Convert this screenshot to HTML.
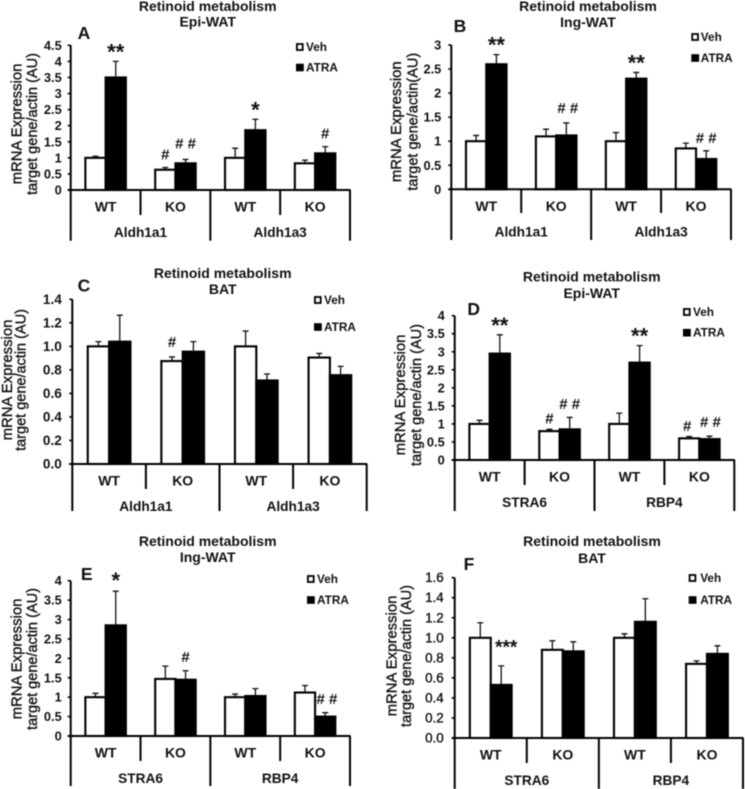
<!DOCTYPE html>
<html lang="en">
<head>
<meta charset="utf-8">
<title>Retinoid metabolism charts</title>
<style>
html,body{margin:0;padding:0;background:#fff;width:745px;height:789px;overflow:hidden}
svg{display:block;filter:blur(0.45px)}
text{font-family:"Liberation Sans",Arial,sans-serif;fill:#111}
.b{font-weight:bold}
</style>
</head>
<body>
<svg id="fig" width="745" height="789" viewBox="0 0 745 789" xmlns="http://www.w3.org/2000/svg"></svg>
<script>
// ---- DATA ----
const categories = ['WT', 'KO', 'WT', 'KO'];
const genesAldh = ['Aldh1a1', 'Aldh1a3'];
const genesRet = ['STRA6', 'RBP4'];
const ticks45 = ['0', '0.5', '1', '1.5', '2', '2.5', '3', '3.5', '4', '4.5'];
const ticks30 = ['0', '0.5', '1', '1.5', '2', '2.5', '3'];
const ticks40 = ['0', '0.5', '1', '1.5', '2', '2.5', '3', '3.5', '4'];
const ticks14 = ['0.0', '0.2', '0.4', '0.6', '0.8', '1.0', '1.2', '1.4'];
const ticks16 = ['0.0', '0.2', '0.4', '0.6', '0.8', '1.0', '1.2', '1.4', '1.6'];

const vehA = [1.0, 0.63, 1.0, 0.83];
const atraA = [3.5, 0.83, 1.86, 1.14];
const errVehA = [0.05, 0.07, 0.3, 0.1];
const errAtraA = [0.5, 0.12, 0.34, 0.21];

const vehB = [1.0, 1.1, 1.0, 0.85];
const atraB = [2.6, 1.12, 2.3, 0.63];
const errVehB = [0.12, 0.15, 0.18, 0.11];
const errAtraB = [0.2, 0.26, 0.13, 0.17];

const vehC = [1.0, 0.875, 1.0, 0.905];
const atraC = [1.04, 0.955, 0.71, 0.755];
const errVehC = [0.04, 0.035, 0.13, 0.035];
const errAtraC = [0.225, 0.085, 0.055, 0.075];

const vehD = [1.0, 0.8, 1.0, 0.6];
const atraD = [2.95, 0.85, 2.7, 0.58];
const errVehD = [0.1, 0.05, 0.3, 0.05];
const errAtraD = [0.52, 0.33, 0.47, 0.08];

const vehE = [1.0, 1.47, 1.0, 1.12];
const atraE = [2.85, 1.45, 1.03, 0.5];
const errVehE = [0.1, 0.33, 0.08, 0.18];
const errAtraE = [0.88, 0.23, 0.19, 0.1];

const vehF = [1.0, 0.88, 1.0, 0.74];
const atraF = [0.53, 0.865, 1.16, 0.84];
const errVehF = [0.15, 0.09, 0.04, 0.03];
const errAtraF = [0.19, 0.095, 0.23, 0.08];

// significance marks: [category index, series (0 Veh, 1 ATRA), label]
const sigA = [[0, 1, '**'], [1, 0, '#'], [1, 1, '# #'], [2, 1, '*'], [3, 1, '#']];
const sigB = [[0, 1, '**'], [1, 1, '# #'], [2, 1, '**'], [3, 1, '# #']];
const sigC = [[1, 0, '#']];
const sigD = [[0, 1, '**'], [1, 0, '#'], [1, 1, '# #'], [2, 1, '**'], [3, 0, '#'], [3, 1, '# #']];
const sigE = [[0, 1, '*'], [1, 1, '#'], [3, 1, '# #']];
const sigF = [[0, 1, '***']];

// ---- LAYOUT ----
const panels = [
 {id:'a', letter:'A', sub:'Epi-WAT', yt1:'mRNA Expression', yt2:'target gene/actin (AU)', genes:genesAldh, ticks:ticks45,
  veh:vehA, atra:atraA, errV:errVehA, errA:errAtraA, sig:sigA, nudge:{'1-1':[0,-3]},
  x0:70.7, x1:350, y0:190, yTop:45.3, sep:215, long:240.7, tx:207.7, t1:6, t2:21.7, lx:84, ly:33,
  yx1:17.7, yx2:33, yc:124, mx:296, tg:10, l1:47, l2:67.5, sigGap:13, tickSize:12.8, tickGap:9},
 {id:'b', letter:'B', sub:'Ing-WAT', yt1:'mRNA Expression', yt2:'target gene/actin(AU)', genes:genesAldh, ticks:ticks30,
  veh:vehB, atra:atraB, errV:errVehB, errA:errAtraB, sig:sigB, nudge:{'1-1':[1.5,-2]},
  x0:451.3, x1:731, y0:189.3, yTop:45, sep:213, long:240, tx:588, t1:6, t2:22, lx:460, ly:26,
  yx1:397, yx2:413.7, yc:121.7, mx:691.3, tg:9.5, l1:37, l2:58, sigGap:13, tickSize:12.8, tickGap:10},
 {id:'c', letter:'C', sub:'BAT', yt1:'mRNA Expression', yt2:'target gene/actin (AU)', genes:genesAldh, ticks:ticks14,
  veh:vehC, atra:atraC, errV:errVehC, errA:errAtraC, sig:sigC, nudge:{},
  x0:72.3, x1:366.7, y0:464, yTop:299.3, sep:489, long:511, tx:222.7, t1:273, t2:289, lx:84, ly:285.7,
  yx1:8, yx2:21.7, yc:380, mx:314, tg:10, l1:300, l2:327, sigGap:14.8, tickSize:13.6, tickGap:10.5},
 {id:'d', letter:'D', sub:'Epi-WAT', yt1:'mRNA Expression', yt2:'target gene/actin (AU)', genes:genesRet, ticks:ticks40,
  veh:vehD, atra:atraD, errV:errVehD, errA:errAtraD, sig:sigD, nudge:{'1-0':[0,2],'1-1':[0,-0.5],'3-0':[-2,2.4],'3-1':[1,-1.5]},
  x0:454.7, x1:734.3, y0:460, yTop:315.7, sep:485, long:511, tx:591.7, t1:276.7, t2:293, lx:473.7, ly:309,
  yx1:401, yx2:417, yc:395, mx:683, tg:10, l1:312, l2:332.7, sigGap:13, tickSize:12.8, tickGap:10},
 {id:'e', letter:'E', sub:'Ing-WAT', yt1:'mRNA Expression', yt2:'target gene/actin (AU)', genes:genesRet, ticks:ticks40,
  veh:vehE, atra:atraE, errV:errVehE, errA:errAtraE, sig:sigE, nudge:{'3-1':[1.7,0]},
  x0:70.7, x1:350, y0:736, yTop:580.7, sep:761, long:786, tx:207.7, t1:541, t2:557, lx:86.7, ly:574,
  yx1:17.7, yx2:33, yc:659, mx:307, tg:10, l1:579, l2:600, sigGap:14, tickSize:12.8, tickGap:9},
 {id:'f', letter:'F', sub:'BAT', yt1:'mRNA Expression', yt2:'target gene/actin (AU)', genes:genesRet, ticks:ticks16,
  veh:vehF, atra:atraF, errV:errVehF, errA:errAtraF, sig:sigF, nudge:{'0-1':[5,0]}, starSize:19,
  x0:454.7, x1:743, y0:738, yTop:577.7, sep:763, long:789, tx:592, t1:541, t2:558, lx:469, ly:564,
  yx1:392.7, yx2:407, yc:656, mx:688.7, tg:11.5, l1:578, l2:600, sigGap:22, tickSize:13.4, tickGap:11, tickNormal:true}
];

const svg = document.getElementById('fig');
const NS = 'http://www.w3.org/2000/svg';

function mk(parent, tag, attrs) {
  const el = document.createElementNS(NS, tag);
  for (const k in attrs) el.setAttribute(k, attrs[k]);
  parent.appendChild(el);
  return el;
}
function txt(parent, content, x, y, size, anchor, bold, extra) {
  const a = Object.assign({x: x, y: y, 'font-size': size, 'text-anchor': anchor, 'dominant-baseline': 'central'}, extra || {});
  if (bold) a['class'] = 'b';
  const el = mk(parent, 'text', a);
  el.textContent = content;
  return el;
}
function tag(el, name) {
  
  
  return el;
}

function drawPanel(p) {
  const g = tag(mk(svg, 'g', {}), 'panel-' + p.id);
  const yMax = parseFloat(p.ticks[p.ticks.length - 1]);
  const yScale = v => p.y0 - (v / yMax) * (p.y0 - p.yTop);
  const cw = (p.x1 - p.x0) / categories.length;
  const catX = i => p.x0 + cw * i;
  const barW = cw * 0.29;
  const barX = (i, s) => catX(i) + cw / 2 + (s === 0 ? -barW : 0);

  tag(txt(g, 'Retinoid metabolism', p.tx, p.t1, 14, 'middle', true), 'chart-title');
  tag(txt(g, p.sub, p.tx, p.t2, 14, 'middle', true), 'chart-subtitle');
  tag(txt(g, p.letter, p.lx, p.ly, 17.5, 'middle', true), 'panel-letter');

  tag(txt(g, p.yt1, p.yx1, p.yc, 14.9, 'middle', false, {transform: 'rotate(-90 ' + p.yx1 + ' ' + p.yc + ')', stroke: '#111', 'stroke-width': 0.35}), 'y-axis-title');
  tag(txt(g, p.yt2, p.yx2, p.yc, 14.5, 'middle', false, {transform: 'rotate(-90 ' + p.yx2 + ' ' + p.yc + ')', stroke: '#111', 'stroke-width': 0.35}), 'y-axis-subtitle');

  // bars and error bars
  [[p.veh, p.errV, 'veh'], [p.atra, p.errA, 'atra']].forEach((series, s) => {
    series[0].forEach((v, i) => {
      const cx = barX(i, s) + barW / 2;
      const top = yScale(v + series[1][i]);
      const y = yScale(v);
      tag(mk(g, 'path', {d: 'M' + cx + ' ' + y + 'V' + top + 'M' + (cx - 3) + ' ' + top + 'H' + (cx + 3), stroke: '#111', 'stroke-width': 1.3, fill: 'none'}), 'error-bar-' + series[2]);
      const bar = mk(g, 'rect', {x: barX(i, s), y: y, width: barW, height: p.y0 - y, fill: s === 0 ? '#fff' : '#000', stroke: '#000', 'stroke-width': 2.1});
      
      
    });
  });

  // axes
  tag(mk(g, 'line', {x1: p.x0, x2: p.x0, y1: p.yTop, y2: p.long, stroke: '#000', 'stroke-width': 2}), 'y-axis');
  tag(mk(g, 'line', {x1: p.x0 - 3, x2: p.x1 + 0.5, y1: p.y0, y2: p.y0, stroke: '#000', 'stroke-width': 2}), 'x-axis');
  p.ticks.forEach(t => {
    const v = parseFloat(t);
    const y = yScale(v);
    tag(mk(g, 'line', {x1: p.x0 - 3, x2: p.x0, y1: y, y2: y, stroke: '#000', 'stroke-width': 1.6}), 'y-tick');
    tag(txt(g, t, p.x0 - p.tickGap, y, p.tickSize, 'end', !p.tickNormal, p.tickNormal ? {stroke: '#111', 'stroke-width': 0.35} : {}), 'y-tick-label');
  });
  for (let i = 1; i <= categories.length; i++) {
    const long = i % 2 === 0;
    tag(mk(g, 'line', {x1: catX(i), x2: catX(i), y1: p.y0, y2: long ? p.long : p.sep, stroke: '#000', 'stroke-width': 2}), 'x-separator');
  }
  categories.forEach((c, i) => {
    tag(txt(g, c, catX(i) + cw / 2, p.y0 + 16.5, 14, 'middle', true), 'x-category-label');
  });
  p.genes.forEach((c, i) => {
    tag(txt(g, c, catX(i * 2 + 1), p.y0 + 42.5, 13.7, 'middle', true), 'x-group-label');
  });

  // significance marks, placed above each mark's error bar
  p.sig.forEach(m => {
    const i = m[0], s = m[1], lab = m[2];
    const vals = s === 0 ? p.veh : p.atra;
    const errs = s === 0 ? p.errV : p.errA;
    const off = p.nudge[i + '-' + s] || [0, 0];
    const cx = barX(i, s) + barW / 2 + off[0];
    const cy = yScale(vals[i] + errs[i]) - p.sigGap + off[1];
    const star = lab.indexOf('*') >= 0;
    const size = star ? (p.starSize || 22) : 15;
    const el = mk(g, 'text', {x: cx, y: cy + (star ? size * 0.5 : size * 0.34), 'font-size': size, 'text-anchor': 'middle', 'class': 'b'});
    el.textContent = lab;
    
    
  });

  // legend
  tag(mk(g, 'rect', {x: p.mx + 0.9, y: p.l1 - 3, width: 5.8, height: 6, fill: '#fff', stroke: '#000', 'stroke-width': 1.8}), 'legend-swatch-veh');
  tag(mk(g, 'rect', {x: p.mx, y: p.l2 - 3.8, width: 7.8, height: 7.6, fill: '#000'}), 'legend-swatch-atra');
  tag(txt(g, 'Veh', p.mx + p.tg, p.l1, 11.8, 'start', true), 'legend-label-veh');
  tag(txt(g, 'ATRA', p.mx + p.tg, p.l2, 11.8, 'start', true), 'legend-label-atra');
}

panels.forEach(drawPanel);
</script>
</body>
</html>
